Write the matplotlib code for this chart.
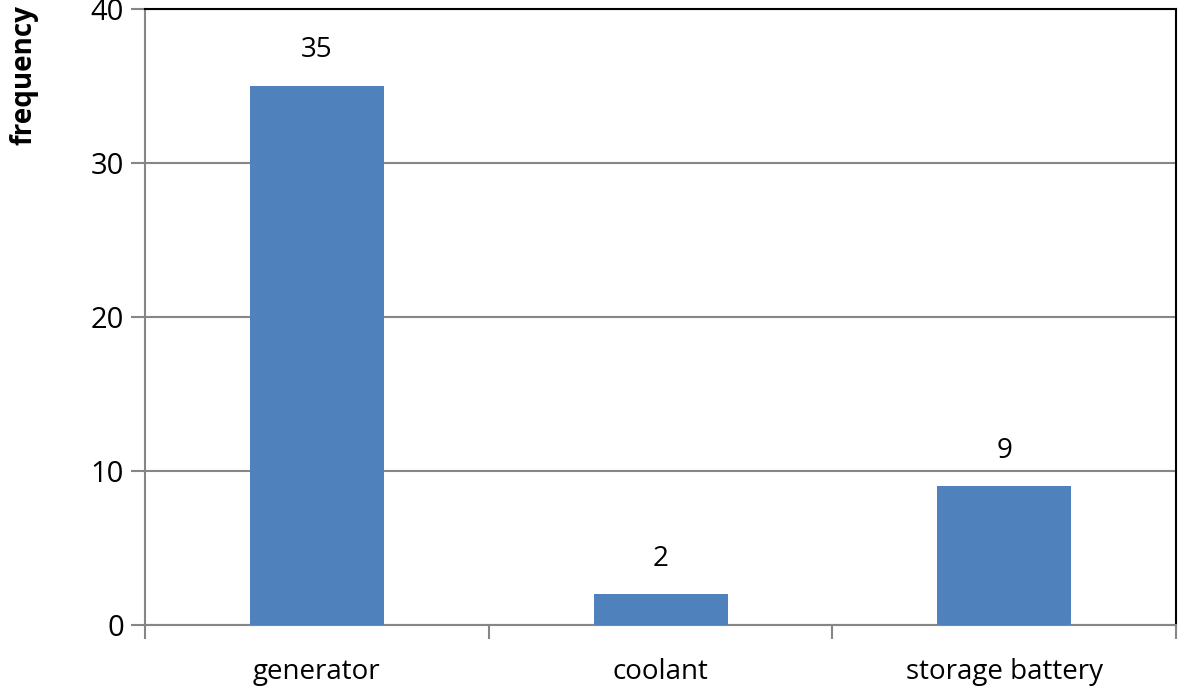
import matplotlib.pyplot as plt
from matplotlib.ticker import FixedLocator

categorias = ['generator', 'coolant', 'storage battery']
frecuencia = [35, 2, 9]

plt.rcParams['font.family'] = ['Open Sans', 'DejaVu Sans']

fig = plt.figure(figsize=(11.79, 6.86), dpi=100)
ax = fig.add_axes([0.123, 0.089, 0.8745, 0.898])

pos = range(len(categorias))
ax.bar(pos, frecuencia, width=0.39, color='#4F81BD', zorder=3)

for i in pos:
    ax.text(i, frecuencia[i] + 2.3, str(frecuencia[i]), ha='center', va='center', fontsize=20)

ax.set_xlim(-0.5, 2.5)
ax.set_ylim(0, 40)
ax.set_yticks([0, 10, 20, 30, 40])
ax.tick_params(axis='y', labelsize=21, length=10, width=1.5, color='#868686', pad=5)

# categorias en ticks menores, divisiones en ticks mayores
ax.xaxis.set_major_locator(FixedLocator([-0.5, 0.5, 1.5, 2.5]))
ax.xaxis.set_minor_locator(FixedLocator(list(pos)))
ax.set_xticklabels([], minor=False)
ax.set_xticklabels(categorias, minor=True)
ax.tick_params(axis='x', which='major', length=10, width=1.5, color='#868686')
ax.tick_params(axis='x', which='minor', length=0, labelsize=20, pad=24)

ax.grid(True, axis='y', color='#868686', linewidth=1.5, zorder=0)

ax.spines['left'].set_color('#868686')
ax.spines['bottom'].set_color('#868686')
ax.spines['left'].set_linewidth(1.5)
ax.spines['bottom'].set_linewidth(1.5)
ax.spines['top'].set_color('black')
ax.spines['right'].set_color('black')
ax.spines['top'].set_linewidth(1.5)
ax.spines['right'].set_linewidth(1.5)

fig.text(0.02, 0.89, 'frequency', rotation=90, ha='center', va='center', fontsize=20, fontweight='bold')

fig.savefig('out.png', dpi=100)
